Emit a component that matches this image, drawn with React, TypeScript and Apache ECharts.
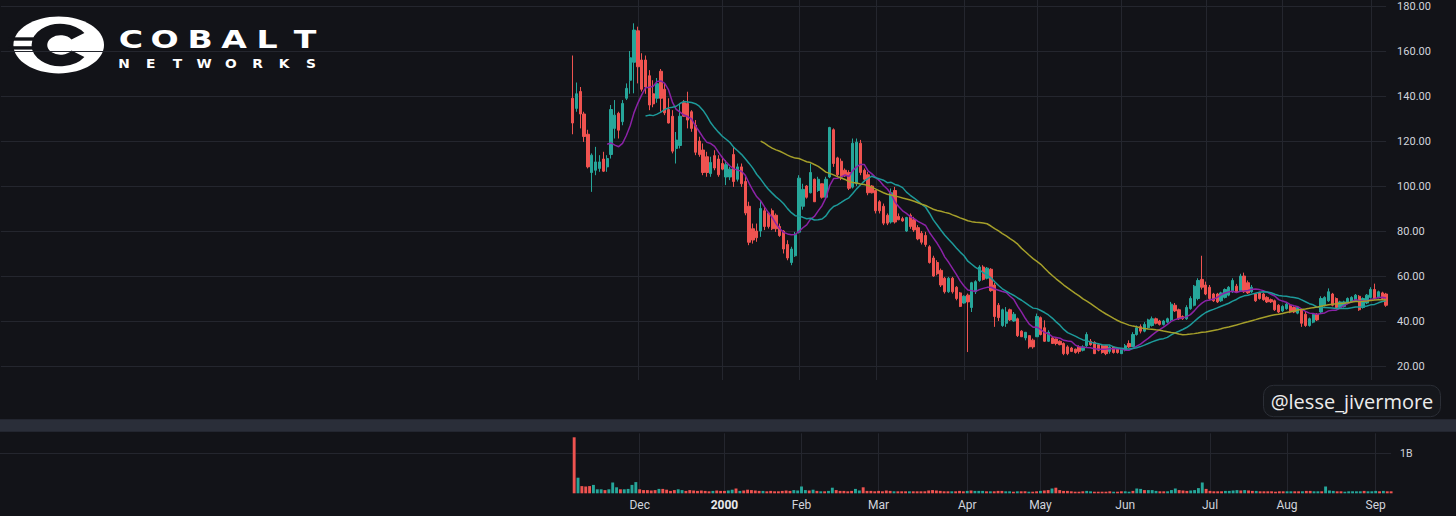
import React, { useEffect, useRef } from 'react';
import * as echarts from 'echarts';

// ---------------- data ----------------
const monthLabels = ['Nov', 'Dec', '2000', 'Feb', 'Mar', 'Apr', 'May', 'Jun', 'Jul', 'Aug', 'Sep'];
const monthBarCounts = [17, 22, 20, 20, 23, 19, 22, 22, 20, 23, 5];
const leadingEmptyBars = 149;
const priceTicks = [20, 40, 60, 80, 100, 120, 140, 160, 180];

// [open, close, low, high]
const candles: number[][] = [
  [139, 128, 123, 158], [134.5, 141, 133, 146], [142, 132, 125.6, 144], [132, 122, 119.6, 133],
  [123, 108.5, 107.8, 125], [106, 113.7, 97.4, 114.5], [107, 110.7, 104.8, 117.4], [107.8, 110.7, 106.3, 113.7],
  [112, 106.6, 106.2, 115.2], [108.5, 112.2, 106.3, 113.7], [114, 134, 112.2, 136], [125.6, 131.5, 121.1, 138.2],
  [132.3, 124.8, 121.1, 133], [128.6, 136.7, 127, 138.2], [139, 143.4, 138.2, 145.6], [147, 157, 141, 160],
  [155, 169.3, 141.2, 172.3],
  // Dec
  [169, 153, 145.6, 170.8], [156, 143, 142, 159], [156, 144, 141, 158], [149, 136, 133.7, 151.5],
  [141, 136.5, 135, 147], [139, 145.5, 137, 148], [151, 139, 133, 152], [143, 132.5, 131.5, 145.6],
  [134, 128, 127.8, 139], [131, 115.5, 114.5, 133.7], [116.7, 120.4, 110, 124], [118, 131, 116.7, 136.7],
  [137, 131, 130.8, 138.2], [136.7, 129.3, 125.6, 141.9], [133, 125.6, 124.1, 133.7], [127, 115, 113.7, 129.3],
  [120, 114, 113, 121.9], [116, 106, 104.8, 118.9], [113, 106, 104.1, 115.2], [105.5, 110.5, 104.1, 113],
  [113.5, 108, 107, 115.9], [112, 105, 104.1, 113.7],
  // Jan
  [110, 107.5, 107, 113], [104, 109.5, 100.4, 111.5], [104, 107.5, 102.6, 108.5], [114, 102, 99.6, 117.4],
  [103, 108.5, 102, 110], [108.5, 101, 99.6, 110], [102, 88, 87, 104], [91, 75, 73.7, 93],
  [81, 76, 74.4, 83.3], [80, 77, 75.2, 83.3], [80, 90, 77.4, 93.7], [89, 82, 80.4, 90.7],
  [88, 82, 81.1, 88.5], [89, 81, 80.4, 90], [87, 81, 79.6, 87.8], [82, 78, 77.4, 83.3],
  [80, 72, 70, 80.4], [74, 68, 67, 75.9], [66, 72, 64.8, 73], [69, 78.5, 68.5, 79.6],
  // Feb
  [79.5, 103.5, 78.9, 104.8], [91, 98.5, 89.5, 101], [100, 95, 94.4, 100.4], [97, 106, 96.7, 110],
  [103, 93, 92.9, 103.3], [98, 103, 97.4, 104.1], [101, 95, 94.4, 101.1], [95, 103, 94.4, 104.1],
  [104, 126, 103.5, 126.3], [125, 110, 108.5, 125.6], [112.5, 105, 104.1, 113], [111, 104, 102.6, 112.2],
  [107, 104.5, 104.1, 107.8], [106, 99, 98.2, 107], [99.5, 119, 98.9, 121.1], [101, 119.5, 100, 121.1],
  [119, 106, 104.8, 120.5], [107, 103, 101.9, 107.8], [105, 97, 95.9, 106.3], [100, 97, 96.7, 100.4],
  // Mar
  [98, 89, 87.8, 98.2], [93, 89, 87.8, 93.7], [91, 83.5, 82.6, 92.2], [87, 83.5, 82.6, 87.8],
  [84, 97, 83.3, 98.9], [98, 84, 83.3, 99.6], [86.5, 85, 84.8, 87.8], [85.5, 84.5, 84.1, 86.3],
  [80, 86, 79.6, 86.3], [87, 82, 81, 87.8], [85, 80.5, 79.6, 86.3], [81.5, 76.5, 75.9, 82.6],
  [79, 75, 74, 80], [78, 74, 73, 79.6], [73, 66, 65.5, 73.7], [68, 60, 59.6, 69],
  [66, 61, 60.3, 67], [62.5, 56, 55.1, 63.3], [59, 53, 52.2, 59.6], [53, 59, 52.5, 59.6],
  [59, 53, 52.2, 59.6], [55, 50, 49.2, 55.5], [52.5, 46.5, 46.2, 52.9],
  // Apr
  [48, 51, 47.7, 51.4], [51.5, 48.5, 26.2, 52.2], [46, 57, 44, 57.4], [53, 57.5, 52, 58.1],
  [58, 64, 57.4, 64.8], [64, 58.5, 58, 64.8], [59, 63.5, 58.5, 64], [63, 53.5, 53, 63.5],
  [56, 42, 37.4, 57], [47, 41.5, 40, 48], [38, 45, 37.4, 45.5], [39, 44, 37.4, 46.2],
  [45, 40.5, 40, 45.5], [40, 43, 39.6, 44], [41, 33.5, 32.9, 41.5], [35.5, 33, 32.9, 35.9],
  [32.5, 35, 31.4, 35.1], [33.5, 28.5, 27.7, 33.6], [31.5, 28.5, 27.7, 32.2],
  // May
  [33, 42, 32.9, 43.3], [41.5, 34, 33.6, 42], [37, 31, 30.7, 40.3], [31, 35, 30.7, 35.9],
  [32.5, 30, 29.9, 33], [32, 30, 29.2, 32.2], [31, 29.5, 29.2, 31.4], [30, 25.5, 24.8, 30.5],
  [28.5, 25.5, 24.8, 29.2], [28, 26.5, 26.2, 28.5], [27.5, 26, 25.5, 27.7], [28.5, 26.5, 25.5, 29.2],
  [27, 28.5, 26.5, 29.2], [29, 34, 28.5, 35], [31, 29.5, 29, 32], [30.5, 25.5, 25.3, 31],
  [29.5, 27, 26.5, 30], [29, 26, 25.5, 29.5], [29, 25.5, 24.8, 29.2], [26.5, 28.5, 25.5, 29.2],
  [28.5, 26, 25.5, 28.5], [28, 26, 25.5, 28],
  // Jun
  [25.5, 27.5, 25.3, 28], [27, 29, 26.5, 29.8], [30, 28.5, 28, 31.4], [28.5, 34, 28.5, 35],
  [34, 37, 33.5, 38], [37.5, 35.5, 34.5, 38.5], [35.5, 38.5, 35, 39.5], [37, 40.5, 36.5, 41],
  [38, 41, 37.5, 42], [41, 39, 38.5, 41.5], [40, 38.5, 38, 40.5], [38.5, 40, 38, 40.5],
  [39.5, 41, 39, 41.5], [40.5, 47.5, 39.6, 48.5], [47, 44.5, 44, 48], [45, 41, 40.5, 45.5],
  [42, 41, 40.5, 42.5], [41, 46, 40.5, 47], [45.5, 50, 45, 51], [47, 55.5, 46.5, 56],
  [50, 58, 49.2, 59], [58.5, 55, 54, 69],
  // Jul
  [56, 52, 51.5, 57.5], [55, 50, 49.2, 56], [52, 49, 48.5, 52.5], [52, 48.5, 48, 52.5],
  [49, 52.5, 48.5, 53], [50.5, 54, 50, 54.5], [51.5, 55, 51, 55.5], [53, 58, 52.5, 59],
  [55.5, 53, 52.5, 56.5], [53.5, 60, 53, 61], [60, 53, 52.5, 61.5], [57, 52.5, 52, 58],
  [53, 55, 52.5, 56], [52, 49, 48.5, 52.5], [52.5, 50, 49.5, 53], [52, 49.5, 49, 52.5],
  [50.5, 48.5, 48, 51], [49.5, 48.5, 48, 50], [49, 45, 44.5, 49.5], [47, 44, 43.5, 47.5],
  // Aug
  [44.5, 46.5, 44, 47], [45.5, 47.5, 45, 48], [47, 44, 43.5, 47.5], [46, 44, 43.5, 46.5],
  [43.5, 46, 43, 46.5], [45, 39, 37.4, 45.5], [43, 38, 37.4, 44], [38, 41, 37.5, 41.5],
  [39.5, 43, 39, 43.5], [43, 40.5, 40, 43.5], [44, 50, 43.5, 51], [47, 50.5, 46.5, 51],
  [49, 53, 48.5, 54.5], [52, 47, 46.5, 52.5], [50, 46, 45.5, 50.5], [46, 48.5, 45.5, 49],
  [46.5, 48.5, 46, 49], [48, 50, 47.5, 50.5], [48.5, 50.5, 48, 51], [49, 51.5, 48.5, 52],
  [51, 45, 44.5, 51.5], [46, 50, 45.5, 50.5], [48, 51.5, 47.5, 52],
  // Sep
  [50.5, 54, 50, 55], [54, 50, 49.5, 56.6], [50.5, 53, 50, 53.5], [52.5, 50, 49.5, 53],
  [52, 47, 46.3, 52.5],
];

// volume, millions of shares
const volumes: number[] = [
  1400, 390, 180, 170, 180, 210, 100, 100, 80, 100, 270, 150, 100, 100, 110, 210, 280,
  100, 80, 80, 70, 80, 110, 110, 90, 60, 80, 100, 80, 60, 80, 70, 60, 70, 60, 50, 60, 70, 60,
  60, 70, 90, 120, 60, 70, 90, 80, 70, 60, 60, 50, 60, 50, 50, 60, 70, 60, 80, 70,
  170, 80, 70, 90, 60, 50, 50, 60, 140, 80, 60, 60, 50, 60, 110, 70, 150, 60, 60, 50,
  60, 50, 70, 60, 50, 50, 50, 50, 50, 50, 50, 50, 50, 70, 80, 70, 60, 50, 50, 50, 50, 60, 50,
  60, 70, 60, 60, 60, 50, 50, 50, 60, 60, 50, 50, 40, 50, 50, 50, 40, 40, 50,
  60, 70, 80, 120, 140, 80, 60, 60, 50, 40, 40, 50, 60, 50, 40, 40, 40, 40, 50, 40, 40, 50,
  50, 40, 60, 120, 110, 80, 80, 80, 60, 50, 50, 50, 80, 120, 80, 70, 60, 70, 80, 130, 270, 110,
  60, 50, 50, 50, 60, 60, 70, 80, 70, 80, 70, 60, 60, 50, 50, 50, 50, 40, 50, 50,
  50, 50, 50, 50, 50, 60, 60, 50, 50, 50, 170, 70, 60, 50, 50, 40, 50, 50, 50, 50, 60, 50, 50,
  60, 50, 60, 50, 50,
];

const maPeriods = [10, 20, 50];
const maColors = ['#8b22a6', '#1d9a9a', '#a59f2a'];

// ---------------- styles ----------------
const BG = '#121318';
const GRID = '#24262e';
const TEXT = '#d1d4dc';
const UP = '#26a69a';
const DOWN = '#ef5350';

const totalBars = leadingEmptyBars + candles.length;
const categories = Array.from({ length: totalBars }, (_, i) => String(i));
const monthStart: Record<number, string> = {};
{
  let idx = leadingEmptyBars;
  monthLabels.forEach((m, k) => {
    if (k > 0) monthStart[idx] = m;
    idx += monthBarCounts[k];
  });
}
const isMonthStart = (index: number) => monthStart[index] !== undefined;

function sma(period: number) {
  const out: number[][] = [];
  for (let i = period - 1; i < candles.length; i++) {
    let s = 0;
    for (let k = i - period + 1; k <= i; k++) s += candles[k][1];
    out.push([leadingEmptyBars + i, +(s / period).toFixed(3)]);
  }
  return out;
}

function buildOption() {
  const candleData = candles.map((c, i) => [leadingEmptyBars + i, c[0], c[1], c[2], c[3]]);
  const volData = volumes.map((v, i) => ({
    value: [leadingEmptyBars + i, v],
    itemStyle: { color: candles[i][1] >= candles[i][0] ? UP : DOWN },
  }));

  const cobalt = 'COBALT'.split('');
  const cobaltX = [131, 164.5, 200, 234, 267, 305];
  const networks = 'NETWORKS'.split('');

  const logo: any[] = [
    { type: 'ellipse', shape: { cx: 58.7, cy: 45, rx: 45.3, ry: 28.4 }, style: { fill: '#ffffff' } },
    { type: 'rect', shape: { x: 8, y: 37.3, width: 30, height: 3.4 }, style: { fill: BG } },
    { type: 'rect', shape: { x: 8, y: 46.2, width: 30, height: 3.4 }, style: { fill: BG } },
    {
      type: 'arc', x: 60.5, y: 45, scaleX: 1.36, scaleY: 1,
      shape: { cx: 0, cy: 0, r: 15.5, startAngle: Math.PI * 0.19, endAngle: Math.PI * 1.81, clockwise: true },
      style: { stroke: BG, lineWidth: 11.5, fill: 'none' },
    },
    ...cobalt.map((ch, i) => ({
      type: 'text', x: cobaltX[i], y: 39.6, scaleX: 1.38, scaleY: 1,
      style: { text: ch, fill: '#ffffff', fontSize: 24, fontWeight: 'bold', fontFamily: 'DejaVu Sans', align: 'center', verticalAlign: 'middle' },
    })),
    ...networks.map((ch, i) => ({
      type: 'text', x: 124 + i * 26.7, y: 64, scaleX: 1.15, scaleY: 1,
      style: { text: ch, fill: '#ffffff', fontSize: 12, fontWeight: 'bold', fontFamily: 'DejaVu Sans', align: 'center', verticalAlign: 'middle' },
    })),
  ];

  return {
    animation: false,
    backgroundColor: BG,
    textStyle: { fontFamily: 'Roboto' },
    grid: [
      { left: 0.9, right: 69.9, top: 6, height: 360 },       // price
      { left: -0.6, right: 64.9, top: 433.3, height: 60 },   // volume
      { left: 0.9, right: 69.9, top: 0, height: 380 },       // price pane vertical lines
    ],
    xAxis: [
      {
        type: 'category', gridIndex: 0, data: categories, boundaryGap: false,
        axisLine: { show: false }, axisTick: { show: false }, axisLabel: { show: false }, splitLine: { show: false },
      },
      {
        type: 'category', gridIndex: 1, data: categories, boundaryGap: false,
        axisLine: { show: false }, axisTick: { show: false },
        axisLabel: {
          show: true, interval: (index: number) => isMonthStart(index), color: TEXT, fontSize: 12, margin: 6,
          fontFamily: 'Roboto',
          formatter: (_v: string, index: number) => {
            const m = monthStart[index];
            if (!m) return '';
            return m === '2000' ? '{b|2000}' : m;
          },
          rich: { b: { fontWeight: 'bold', color: '#e8e9ec', fontSize: 12, fontFamily: 'Roboto' } },
        },
        splitLine: { show: true, interval: (index: number) => isMonthStart(index), lineStyle: { color: GRID, width: 1 } },
      },
      {
        type: 'category', gridIndex: 2, data: categories, boundaryGap: false,
        axisLine: { show: false }, axisTick: { show: false }, axisLabel: { show: false },
        splitLine: { show: true, interval: (index: number) => isMonthStart(index), lineStyle: { color: GRID, width: 1 } },
      },
    ],
    yAxis: [
      {
        type: 'value', gridIndex: 0, position: 'right', min: priceTicks[0], max: priceTicks[priceTicks.length - 1], interval: 20,
        axisLine: { show: false }, axisTick: { show: false },
        axisLabel: { color: TEXT, fontSize: 11, margin: 11, fontFamily: 'Roboto', formatter: (v: number) => v.toFixed(2) },
        splitLine: { show: true, lineStyle: { color: GRID, width: 1 } },
      },
      {
        type: 'value', gridIndex: 1, position: 'right', min: 0, max: 1500, interval: 500,
        axisLine: { show: false }, axisTick: { show: false },
        axisLabel: { color: TEXT, fontSize: 10.5, margin: 9, fontFamily: 'Roboto', formatter: (v: number) => (v === 1000 ? '1B' : '') },
        splitLine: { show: true, lineStyle: { color: ['transparent', 'transparent', GRID, 'transparent'], width: 1 } },
      },
      { type: 'value', gridIndex: 2, show: false, min: 0, max: 1, splitLine: { show: false } },
    ],
    series: [
      {
        type: 'candlestick', xAxisIndex: 0, yAxisIndex: 0, data: candleData,
        encode: { x: 0, y: [1, 2, 3, 4] }, barWidth: 2.8, clip: false,
        itemStyle: { color: UP, color0: DOWN, borderColor: UP, borderColor0: DOWN, borderWidth: 1 },
      },
      ...maPeriods.map((p, k) => ({
        type: 'line', xAxisIndex: 0, yAxisIndex: 0, data: sma(p), showSymbol: false, symbol: 'none',
        smooth: false, lineStyle: { color: maColors[k], width: 1.5 }, z: 3,
      })),
      {
        type: 'bar', xAxisIndex: 1, yAxisIndex: 1, data: volData, barWidth: 2.9, clip: false,
      },
    ],
    graphic: [
      { type: 'rect', shape: { x: 0, y: 419.3, width: 1456, height: 12.4 }, style: { fill: '#2a2e39' }, z: 10 },
      {
        type: 'rect', shape: { x: 1263.5, y: 385.3, width: 177, height: 31.4, r: 10 },
        style: { fill: '#15171c', stroke: '#2b2e36', lineWidth: 1 }, z: 10,
      },
      {
        type: 'text', x: 1352, y: 401, z: 11,
        style: { text: '@lesse_jivermore', fill: '#ececec', fontSize: 20, fontFamily: 'Open Sans', align: 'center', verticalAlign: 'middle' },
      },
      { type: 'group', z: 10, children: logo },
    ],
  };
}

export default function App() {
  const ref = useRef<HTMLDivElement>(null);
  useEffect(() => {
    if (!ref.current) return;
    const chart = echarts.init(ref.current, undefined, { renderer: 'svg' });
    chart.setOption(buildOption() as any);
    return () => chart.dispose();
  }, []);
  return (
    <div
      ref={ref}
      style={{ position: 'fixed', left: 0, top: 0, width: 1456, height: 516, background: BG }}
    />
  );
}
